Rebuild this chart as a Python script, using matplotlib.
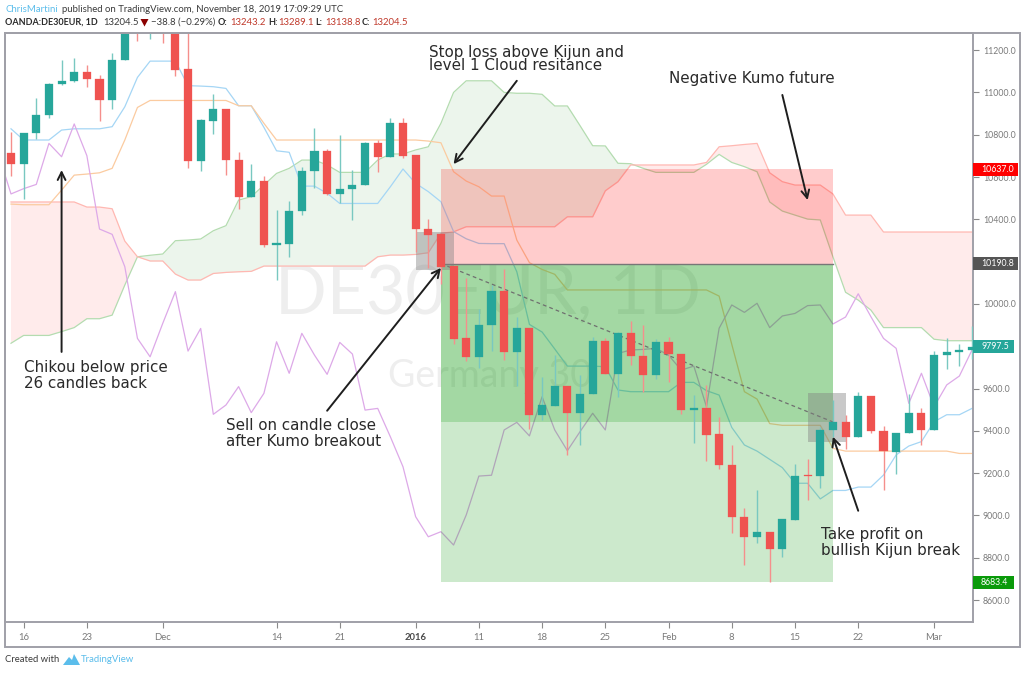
"""DE30EUR daily with Ichimoku, short position tool and notes (TradingView look)."""
import numpy as np
import matplotlib
matplotlib.use("Agg")
import matplotlib.pyplot as plt
from matplotlib.patches import Rectangle, Polygon
from matplotlib.transforms import blended_transform_factory

W, H = 1024, 673

# ── data ──
opens = [10715, 10661, 10810, 10893, 11038, 11054, 11095, 11062, 10964, 11152,
         11420, 11300, 11420, 11310, 11109, 10676, 10866, 10923, 10682, 10507,
         10581, 10280, 10283, 10439, 10628, 10724, 10518, 10543, 10562, 10761,
         10695, 10854, 10702, 10354, 10331, 10178, 9837, 9747, 9900, 10059,
         9773, 9888, 9475, 9517, 9610, 9483, 9572, 9823, 9670, 9861,
         9754, 9665, 9820, 9765, 9498, 9506, 9383, 9240, 8991, 8898,
         8923, 8843, 8980, 9191, 9188, 9402, 9440, 9371, 9566, 9401,
         9301, 9390, 9484, 9404, 9757, 9773, 9780]
closes = [10661, 10810, 10893, 11041, 11055, 11095, 11062, 10964, 11152, 11330,
          11300, 11400, 11310, 11107, 10676, 10868, 10923, 10679, 10507, 10581,
          10280, 10288, 10441, 10630, 10724, 10518, 10545, 10562, 10762, 10695,
          10854, 10701, 10352, 10327, 10174, 9834, 9747, 9900, 10059, 9773,
          9888, 9475, 9520, 9610, 9483, 9574, 9823, 9670, 9861, 9752,
          9665, 9818, 9763, 9497, 9506, 9382, 9238, 8991, 8898, 8923,
          8843, 8981, 9188, 9188, 9402, 9442, 9371, 9566, 9399, 9303,
          9391, 9484, 9404, 9757, 9774, 9782, 9796]
highs = [10814, 10810, 10975, 11046, 11153, 11164, 11131, 11082, 11185, 11380,
         11450, 11450, 11460, 11340, 11300, 10874, 10991, 10923, 10718, 10661,
         10605, 10444, 10488, 10649, 10833, 10732, 10800, 10633, 10767, 10775,
         10880, 10880, 10702, 10401, 10331, 10178, 10121, 9977, 10089, 10163,
         9940, 9888, 9656, 9757, 9610, 9664, 9842, 9837, 9869, 9919,
         9899, 9834, 9842, 9765, 9571, 9617, 9467, 9334, 9035, 9120,
         8923, 8985, 9245, 9265, 9419, 9546, 9473, 9585, 9566, 9424,
         9391, 9574, 9506, 9777, 9839, 9810, 9897]
lows = [10606, 10496, 10778, 10877, 11035, 11051, 11024, 10866, 10920, 11152,
        11245, 11251, 11232, 11079, 10641, 10628, 10803, 10609, 10449, 10507,
        10267, 10113, 10220, 10420, 10546, 10515, 10475, 10397, 10560, 10625,
        10693, 10691, 10247, 10168, 10094, 9809, 9730, 9699, 9777, 9735,
        9613, 9410, 9451, 9517, 9285, 9333, 9572, 9670, 9561, 9711,
        9585, 9647, 9629, 9478, 9344, 9259, 9219, 8915, 8766, 8871,
        8683, 8805, 8980, 9073, 9131, 9369, 9314, 9371, 9391, 9120,
        9196, 9388, 9331, 9404, 9691, 9706, 9738]

tenkan = [10828, 10775, 10775, 10775, 10822, 10828, 10828, 10828, 10838, 10932,
          11071, 11148, 11148, 11148, 11032, 11030, 11027, 11019, 10937, 10937,
          10835, 10724, 10717, 10557, 10557, 10523, 10475, 10475, 10475, 10475,
          10554, 10638, 10570, 10531, 10483, 10342, 10308, 10286, 10285, 10285,
          10152, 9903, 9867, 9787, 9706, 9706, 9706, 9703, 9593, 9585,
          9585, 9585, 9585, 9629, 9629, 9590, 9569, 9416, 9333, 9304,
          9265, 9226, 9152, 9152, 9078, 9118, 9118, 9134, 9134, 9191,
          9286, 9328, 9349, 9443, 9476, 9476, 9506]
kijun = [10472, 10469, 10469, 10469, 10538, 10609, 10614, 10620, 10641, 10775,
         10929, 10962, 10962, 10962, 10962, 10962, 10962, 10962, 10937, 10937,
         10854, 10775, 10775, 10775, 10775, 10775, 10775, 10775, 10775, 10775,
         10775, 10775, 10775, 10770, 10762, 10625, 10581, 10554, 10510, 10510,
         10302, 10195, 10163, 10140, 10066, 10066, 10066, 10066, 10066, 10066,
         10066, 10066, 10066, 10066, 10066, 10066, 10037, 9809, 9585, 9550,
         9434, 9426, 9426, 9426, 9426, 9317, 9304, 9304, 9304, 9304,
         9304, 9304, 9304, 9304, 9304, 9293, 9293]
span_a = [9814, 9851, 9851, 9851, 9869, 9888, 9930, 9930, 9947, 10089,
          10223, 10230, 10236, 10299, 10302, 10307, 10346, 10370, 10491, 10507,
          10562, 10617, 10641, 10680, 10680, 10657, 10622, 10622, 10622, 10680,
          10709, 10709, 10728, 10743, 10854, 11000, 11055, 11055, 11055, 11000,
          10996, 10996, 10991, 10936, 10936, 10843, 10748, 10747, 10665, 10663,
          10641, 10622, 10622, 10622, 10622, 10660, 10707, 10669, 10649, 10625,
          10482, 10439, 10420, 10401, 10397, 10223, 10055, 10018, 9971, 9888,
          9888, 9888, 9888, 9833, 9826, 9826, 9826]
span_b = [10482, 10482, 10482, 10482, 10482, 10482, 10458, 10458, 10450, 10297,
          10223, 10203, 10203, 10141, 10113, 10113, 10144, 10149, 10152, 10154,
          10179, 10179, 10179, 10179, 10179, 10179, 10179, 10179, 10179, 10223,
          10231, 10231, 10234, 10242, 10334, 10341, 10365, 10365, 10365, 10365,
          10365, 10365, 10365, 10365, 10412, 10412, 10412, 10535, 10578, 10657,
          10657, 10657, 10657, 10657, 10657, 10669, 10743, 10748, 10754, 10759,
          10620, 10578, 10562, 10562, 10562, 10520, 10420, 10420, 10420, 10340,
          10340, 10340, 10340, 10340, 10340, 10340, 10340]
# chikou starts one bar before the first visible candle
chikou = [10709, 10520, 10545, 10565, 10759, 10696, 10851, 10701, 10354, 10329, 10176,
          9837, 9750, 9908, 10058, 9777, 9884, 9478, 9522, 9609, 9486,
          9577, 9821, 9672, 9861, 9758, 9667, 9818, 9763, 9498, 9506,
          9372, 9230, 8994, 8899, 8923, 8860, 9002, 9186, 9190, 9404,
          9440, 9376, 9561, 9404, 9306, 9396, 9483, 9404, 9766, 9782,
          9785, 9790, 9758, 9687, 9706, 9514, 9885, 9995, 9960, 10003,
          9888, 9943, 9955, 9992, 9995, 9905, 9938, 10048, 9940, 9837,
          9790, 9530, 9672, 9514, 9617, 9659, 9782]

tick_bars = [1, 6, 12, 21, 26, 32, 37, 42, 47, 52, 57, 62, 67, 73]
tick_names = ["16", "23", "Dec", "14", "21", "2016", "11", "18", "25", "Feb", "8", "15", "22", "Mar"]
price_ticks = list(range(8600, 11201, 200))

# position tool and highlight boxes (bar, bar, price, price)
stop_price, entry_price, half_price, target_price = 10637.0, 10190.8, 9442, 8683.4
tool_bars = (34, 65)
entry_box = (32, 35, 10161, 10338)
exit_box = (63, 66, 9346, 9577)
price_labels = [("10637.0", 10637.0, "#FF0000", 45), ("10190.8", 10190.8, "#555555", 45),
                ("9797.5", 9797.5, "#26A69A", 41), ("8683.4", 8683.4, "#0A9A0A", 41)]

notes = [(429, 52, "Stop loss above Kijun and"), (429, 66, "level 1 Cloud resitance"),
         (669, 78, "Negative Kumo future"),
         (24, 368, "Chikou below price"), (24, 383, "26 candles back"),
         (226, 426, "Sell on candle close"), (226, 442, "after Kumo breakout"),
         (821, 534, "Take profit on"), (821, 550, "bullish Kijun break")]
arrows = [((4, 9773), (4, 10633)), ((40, 11055), (35, 10661)), ((61, 10988), (63, 10491)),
          ((25, 9495), (34, 10170)), ((67, 9022), (65, 9372))]

UP, DOWN = "#26A69A", "#EF5350"
ANNO_FONT = "DejaVu Sans"
UI_FONT = "Lato"


def px(x, y):
    return x / W, 1 - y / H


def draw_candles(ax, O, H_, L, C):
    x = np.arange(len(C))
    up = [C[k] >= O[k] for k in x]
    wick = ["#79C8C1" if u else "#F58F8C" for u in up]
    body = [UP if u else DOWN for u in up]
    ax.vlines(x, L, H_, colors=wick, lw=1.0, zorder=6)
    bottoms = [min(O[k], C[k]) for k in x]
    heights = [abs(C[k] - O[k]) for k in x]
    ax.bar(x, heights, bottom=bottoms, width=0.64, color=body, edgecolor=body, linewidth=0.2, zorder=7)


fig = plt.figure(figsize=(W / 100, H / 100), dpi=100, facecolor="white")
ax = fig.add_axes([5 / W, 1 - 622 / H, 968 / W, 589 / H])
ax.set_xlim((5 - 11) / 12.645, (973 - 11) / 12.645)
ax.set_ylim(8496, 11281)

# watermark
ax.text(37.7, 10042, "DE30EUR, 1D", fontsize=49, color="#EEEEEE", ha="center", va="center",
        family=UI_FONT, zorder=0.5)
ax.text(37.9, 9660, "Germany 30", fontsize=27, color="#EEEEEE", ha="center", va="center",
        family=UI_FONT, zorder=0.5)

# ichimoku
bars = np.arange(len(closes))
a, b = np.array(span_a, float), np.array(span_b, float)
ax.fill_between(bars, a, b, where=a >= b, interpolate=True, color="#ECF5EC", lw=0, zorder=1)
ax.fill_between(bars, a, b, where=a <= b, interpolate=True, color="#FFEBEB", lw=0, zorder=1)
ax.plot(bars, span_a, color="#B4DCB0", lw=0.9, zorder=2)
ax.plot(bars, span_b, color="#FFB8B2", lw=0.9, zorder=2)
ax.plot(bars, tenkan, color="#A5D6F5", lw=0.9, zorder=2)
ax.plot(bars, kijun, color="#FBCBA0", lw=0.9, zorder=2)
ax.plot(np.arange(-1, len(closes)), chikou, color="#DDA9E8", lw=0.9, zorder=2)

# position tool
x0, x1 = tool_bars
ax.add_patch(Rectangle((x0, entry_price), x1 - x0, stop_price - entry_price, fc=(1, 0, 0, .2), lw=0, zorder=3))
ax.add_patch(Rectangle((x0, target_price), x1 - x0, entry_price - target_price, fc=(0, .58, 0, .2), lw=0, zorder=3))
ax.add_patch(Rectangle((x0, half_price), x1 - x0, entry_price - half_price, fc=(0, .58, 0, .2), lw=0, zorder=3))
ax.plot([x0, x1], [entry_price, entry_price], color="#777777", lw=1.0, zorder=4)
ax.plot([x0, x1], [entry_price, half_price], color="#6F6F6F", lw=0.9, ls=(0, (3, 2.5)), zorder=4)

for bx0, bx1, p0, p1 in (entry_box, exit_box):
    ax.add_patch(Rectangle((bx0, p0), bx1 - bx0, p1 - p0, fc=(.5, .5, .5, .42), lw=0, zorder=4))

draw_candles(ax, opens, highs, lows, closes)

for start, tip in arrows:
    ax.annotate("", xy=tip, xytext=start, zorder=9, annotation_clip=False,
                arrowprops=dict(arrowstyle="->", color="#1E1E1E", lw=1.4, mutation_scale=14,
                                shrinkA=0, shrinkB=0))

# axes
for s in ax.spines.values():
    s.set_color("#A0A0A8")
    s.set_linewidth(1.4)
ax.yaxis.tick_right()
ax.set_yticks(price_ticks)
ax.set_yticklabels([f"{v:.1f}" for v in price_ticks], fontsize=6.3, color="#7A7A7A", family=UI_FONT)
ax.set_xticks(tick_bars)
ax.set_xticklabels(tick_names, fontsize=6.8, color="#7A7A7A", family=UI_FONT)
ax.tick_params(axis="y", length=4, width=0.8, color="#8A8A8A", pad=3)
ax.tick_params(axis="x", length=4, width=0.8, color="#8A8A8A", pad=4)
for lab in ax.get_xticklabels():
    if lab.get_text() == "2016":
        lab.set_fontweight("bold")
        lab.set_color("#4A4A4A")

# last price / position labels on the price scale
trans = blended_transform_factory(ax.transAxes, ax.transData)
for text, val, col, w_px in price_labels:
    ax.add_patch(Rectangle((1, val - 31), w_px / 968, 62, transform=trans, fc=col, lw=0, clip_on=False, zorder=10))
    ax.text(1 + 8 / 968, val, text, transform=trans, color="white", fontsize=6.3, family=UI_FONT,
            va="center", ha="left", clip_on=False, zorder=11)

# outer frame round price and time scale
fig.add_artist(Rectangle(px(5, 647), 1015 / W, 614 / H, transform=fig.transFigure, fc="none",
                         ec="#A0A0A8", lw=1.4))

for x, y, s in notes:
    fx, fy = px(x, y)
    fig.text(fx, fy, s, fontsize=10.9, color="#2A2A2A", family=ANNO_FONT, va="center", ha="left", zorder=12)

# header
fig.text(*px(5, 9), "ChrisMartini", fontsize=6.9, color="#5BBDEB", family=UI_FONT, va="center")
fig.text(*px(62, 9), "published on TradingView.com, November 18, 2019 17:09:29 UTC", fontsize=6.9,
         color="#3A3A3A", family=UI_FONT, va="center")
fig.text(*px(5, 22.5), "OANDA:DE30EUR, 1D", fontsize=6.5, color="#2A2A2A", family=UI_FONT,
         fontweight="bold", va="center")
fig.text(*px(103, 22.5), "13204.5", fontsize=6.9, color="#3A3A3A", family=UI_FONT, va="center")
fig.add_artist(Polygon([px(140.5, 19), px(148.5, 19), px(144.5, 26.5)], closed=True, transform=fig.transFigure,
                       fc="#8B0000", lw=0))
fig.text(*px(151, 22.5), "\u221238.8 (\u22120.29%)", fontsize=6.9, color="#3A3A3A", family=UI_FONT, va="center")
for xl, lab, xv, val in ((218, "O:", 230, "13243.2"), (268, "H:", 278, "13289.1"),
                         (315, "L:", 325, "13138.8"), (362, "C:", 372, "13204.5")):
    fig.text(*px(xl, 22.5), lab, fontsize=6.5, color="#2A2A2A", family=UI_FONT, fontweight="bold", va="center")
    fig.text(*px(xv, 22.5), val, fontsize=6.9, color="#C0392B", family=UI_FONT, va="center")

# footer with logo
fig.text(*px(5, 660), "Created with", fontsize=6.8, color="#3A3A3A", family=UI_FONT, va="center")
fig.add_artist(Polygon([px(63, 665), px(69, 657), px(72, 660), px(74, 654), px(80, 665)], closed=True,
                       transform=fig.transFigure, fc="#5BBDEB", lw=0))
fig.text(*px(81, 660), "TradingView", fontsize=6.9, color="#5BBDEB", family=UI_FONT, va="center")

fig.savefig("out.png", dpi=100)
